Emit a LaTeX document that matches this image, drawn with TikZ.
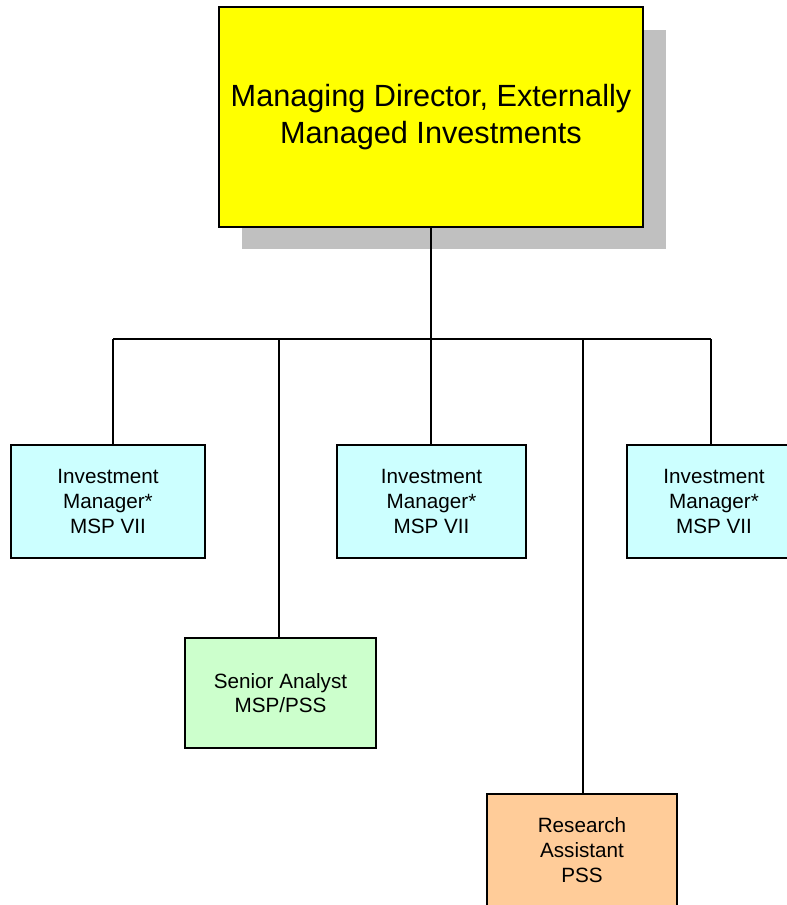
\documentclass[tikz,border=0pt]{standalone}
\usepackage{fontspec}
\setmainfont{Liberation Sans}
\definecolor{mdyellow}{HTML}{FFFF00}
\definecolor{imcyan}{HTML}{CCFFFF}
\definecolor{sagreen}{HTML}{CCFFCC}
\definecolor{raorange}{HTML}{FFCC99}
\definecolor{shadowgray}{HTML}{C0C0C0}
\begin{document}
\begin{tikzpicture}[x=0.75pt,y=-0.75pt,
  box/.style={draw=black, line width=1.5pt, rectangle, align=center, inner sep=0pt},
  bigbox/.style={box, fill=mdyellow, minimum width=318pt, minimum height=165pt, font=\fontsize{23}{27.75}\selectfont},
  smallbox/.style={box, minimum height=84.75pt, font=\fontsize{15.5}{18.5}\selectfont},
  link/.style={draw=black, line width=1.5pt}]
\useasboundingbox (0,0) rectangle (787,905);
% shadow
\fill[shadowgray] (242,30) rectangle (666,249);
% top box
\node[bigbox] (md) at (431,117) {Managing Director, Externally\\Managed Investments};
% second level
\node[smallbox, fill=imcyan, minimum width=145.5pt] (im1) at (108,501.5) {Investment\\Manager*\\MSP VII};
\node[smallbox, fill=imcyan, minimum width=141.75pt] (im2) at (431.5,501.5) {Investment\\Manager*\\MSP VII};
\node[smallbox, fill=imcyan, minimum width=130.5pt] (im3) at (714,501.5) {Investment\\Manager*\\MSP VII};
\node[smallbox, fill=sagreen, minimum width=143.25pt, minimum height=82.5pt] (sa) at (280.5,693) {Senior Analyst\\MSP/PSS};
\node[smallbox, fill=raorange, minimum width=142.5pt] (ra) at (582,850) {Research\\Assistant\\PSS};
% junction points
\coordinate (j) at (431,339);
\coordinate (b1) at (113,339);
\coordinate (b2) at (279,339);
\coordinate (b4) at (583,339);
\coordinate (b5) at (711,339);
% connectors
\draw[link] (md.south) -- (j);
\draw[link] (b1) -- (b5);
\draw[link] (b1) -- (b1 |- im1.north);
\draw[link] (b2) -- (b2 |- sa.north);
\draw[link] (j) -- (j |- im2.north);
\draw[link] (b4) -- (b4 |- ra.north);
\draw[link] (b5) -- (b5 |- im3.north);
\end{tikzpicture}
\end{document}
